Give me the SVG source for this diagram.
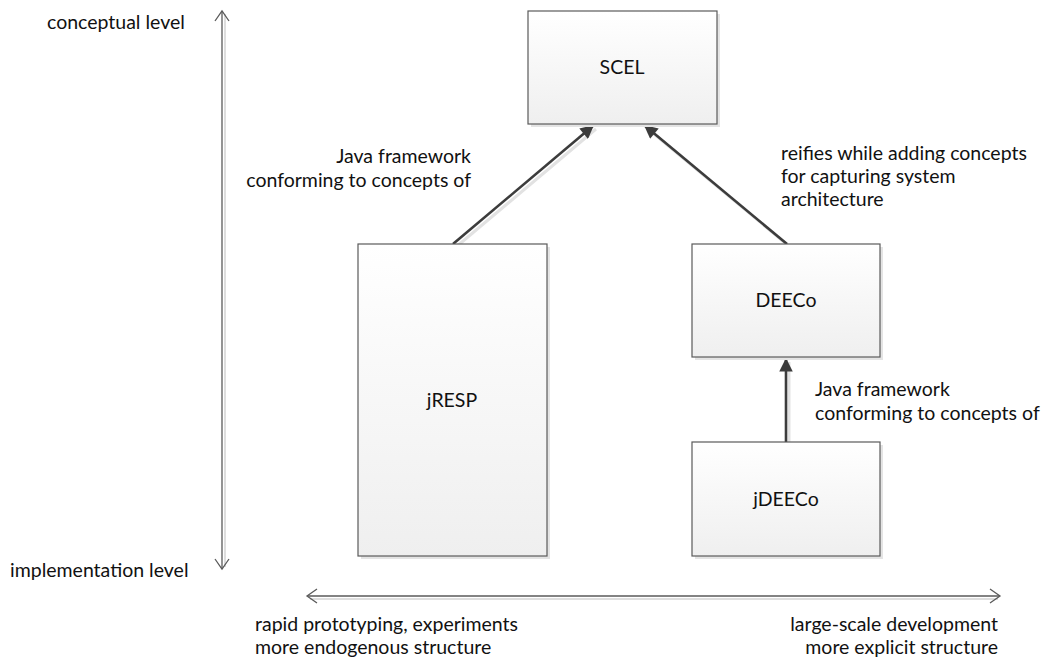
<svg xmlns="http://www.w3.org/2000/svg" width="1049" height="662" viewBox="0 0 1049 662">
<style>
text{font-family:Lato,"Open Sans","Liberation Sans",sans-serif;font-size:19.5px;fill:#111}
.box{fill:url(#g);stroke:#5a5a5a;stroke-width:1.2}
.sh{fill:#e4e4e4}
.con{stroke:#3c3c3c;stroke-width:2.6;fill:none;marker-end:url(#ah)}
.csh{stroke:#e2e2e2;stroke-width:3;fill:none}
.axis{stroke:#5a5a5a;stroke-width:1.3;fill:none}
.ash{stroke:#dedede;stroke-width:2;fill:none}
.c{text-anchor:middle}
.r{text-anchor:end}
</style>
<defs>
<linearGradient id="g" x1="0" y1="0" x2="0" y2="1"><stop offset="0" stop-color="#ffffff"/><stop offset="1" stop-color="#efefef"/></linearGradient>
<marker id="ah" viewBox="0 0 10 10" refX="10" refY="5" markerWidth="6.2" markerHeight="5.2" orient="auto" markerUnits="strokeWidth"><path d="M0,0 L10,5 L0,10 z" fill="#3c3c3c"/></marker>
</defs>
<g id="axes">
<line class="ash" x1="225" y1="14" x2="225" y2="567"/>
<line class="axis" x1="222" y1="12" x2="222" y2="568"/>
<polyline class="axis" points="215,21 222,11 229,21"/>
<polyline class="axis" points="215,559 222,569 229,559"/>
<line class="ash" x1="310" y1="599" x2="998" y2="599"/>
<line class="axis" x1="308" y1="596" x2="999" y2="596"/>
<polyline class="axis" points="317,589 307,596 317,603"/>
<polyline class="axis" points="990,589 1000,596 990,603"/>
<text x="47" y="29">conceptual level</text>
<text x="10" y="577">implementation level</text>
<text x="255" y="631">rapid prototyping, experiments</text>
<text x="255" y="654">more endogenous structure</text>
<text class="r" x="998" y="631">large-scale development</text>
<text class="r" x="998" y="654">more explicit structure</text>
</g>
<g id="connectors">
<line class="csh" x1="456" y1="247" x2="596" y2="129"/>
<line class="csh" x1="790" y1="247" x2="648" y2="129"/>
<line class="csh" x1="789" y1="445" x2="789" y2="362"/>
<line class="con" x1="453" y1="244" x2="594" y2="125"/>
<line class="con" x1="787" y1="244" x2="644" y2="125"/>
<line class="con" x1="786" y1="442" x2="786" y2="358"/>
<text class="r" x="471" y="163">Java framework</text>
<text class="r" x="471" y="187">conforming to concepts of</text>
<text x="781" y="160">reifies while adding concepts</text>
<text x="781" y="183">for capturing system</text>
<text x="781" y="206">architecture</text>
<text x="815" y="396">Java framework</text>
<text x="815" y="420">conforming to concepts of</text>
</g>
<g id="SCEL">
<rect class="sh" x="531" y="14" width="189" height="113"/>
<rect class="box" x="528" y="11" width="189" height="113"/>
<text class="c" x="622" y="74">SCEL</text>
</g>
<g id="jRESP">
<rect class="sh" x="361" y="247" width="189" height="312"/>
<rect class="box" x="358" y="244" width="189" height="312"/>
<text class="c" x="452" y="407">jRESP</text>
</g>
<g id="DEECo">
<rect class="sh" x="695" y="247" width="188" height="113"/>
<rect class="box" x="692" y="244" width="188" height="113"/>
<text class="c" x="786" y="307">DEECo</text>
</g>
<g id="jDEECo">
<rect class="sh" x="695" y="445" width="188" height="114"/>
<rect class="box" x="692" y="442" width="188" height="114"/>
<text class="c" x="786" y="506">jDEECo</text>
</g>
</svg>
